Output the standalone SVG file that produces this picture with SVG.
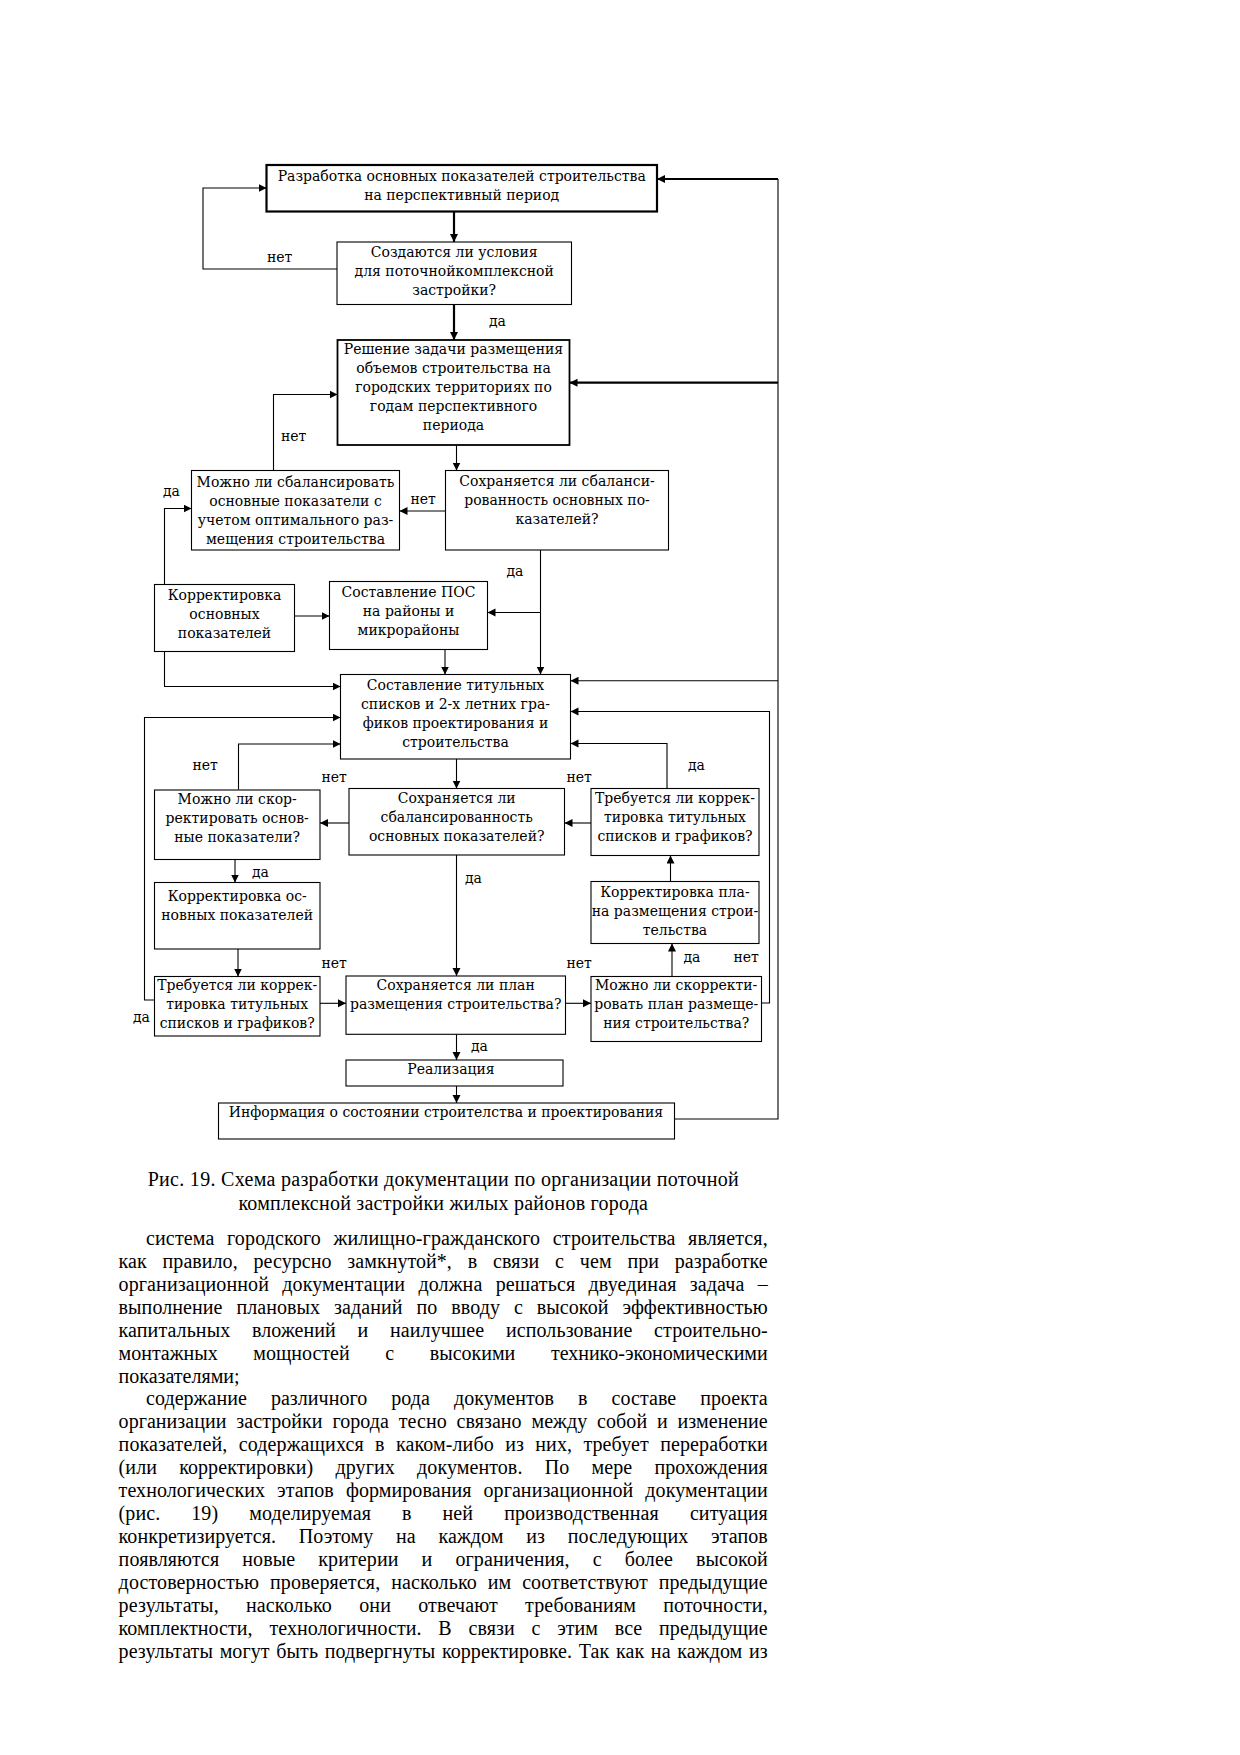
<svg xmlns="http://www.w3.org/2000/svg" width="1240" height="1755" viewBox="0 0 1240 1755">
<defs>
<style>
.box{fill:#fff;stroke:#000;stroke-width:1.1}
.thick{stroke-width:2.2}
.t{font-family:"DejaVu Serif",serif;font-size:14px;fill:#000;text-anchor:middle}
.lbl{font-family:"DejaVu Serif",serif;font-size:14px;fill:#000}
.ln{fill:none;stroke:#000;stroke-width:1.1}
.ln2{fill:none;stroke:#000;stroke-width:2.2}
.arr{marker-end:url(#ah)}
.body{font-family:"Liberation Serif",serif;font-size:20px;fill:#000}
</style>
<marker id="ah" markerUnits="userSpaceOnUse" markerWidth="9" markerHeight="9" refX="8" refY="4" orient="auto">
<path d="M0,0 L8,4 L0,8 Z" fill="#000"/>
</marker>
</defs>
<rect width="1240" height="1755" fill="#fff"/>

<g id="connectors">
<path class="ln2 arr" d="M454,211.5 V242"/>
<path class="ln arr" d="M337,269 H203 V188 H266.5"/>
<path class="ln2 arr" d="M454,304.5 V340"/>
<path class="ln" d="M778,179 V1119 H674.5"/>
<path class="ln2 arr" d="M778,179 H657"/>
<path class="ln2 arr" d="M778,382.7 H569.5"/>
<path class="ln arr" d="M778,680.7 H570.5"/>
<path class="ln arr" d="M456.5,445 V470.5"/>
<path class="ln arr" d="M273.5,470.5 V394.5 H337.5"/>
<path class="ln arr" d="M445.5,511 H399.5"/>
<path class="ln arr" d="M164.5,584.5 V508.5 H191.5"/>
<path class="ln arr" d="M294.5,616 H329.5"/>
<path class="ln arr" d="M540.5,550 V674.5"/>
<path class="ln arr" d="M540.5,612.5 H487.5"/>
<path class="ln arr" d="M445,649.5 V674.5"/>
<path class="ln arr" d="M164.5,651.5 V686.5 H340.5"/>
<path class="ln arr" d="M154.5,1000 H144.5 V717.5 H340.5"/>
<path class="ln arr" d="M238.5,789.5 V744 H340.5"/>
<path class="ln arr" d="M761.5,1003 H769.5 V711.5 H570.5"/>
<path class="ln arr" d="M667,788.5 V743.5 H570.5"/>
<path class="ln arr" d="M456.5,759 V788.5"/>
<path class="ln arr" d="M591,823 H564.5"/>
<path class="ln arr" d="M349,823 H320"/>
<path class="ln arr" d="M235,859.5 V882.5"/>
<path class="ln arr" d="M456.5,855 V976"/>
<path class="ln arr" d="M670.5,881.5 V855.5"/>
<path class="ln arr" d="M238,949 V976.5"/>
<path class="ln arr" d="M672,976.5 V943.5"/>
<path class="ln arr" d="M320,1003.3 H346"/>
<path class="ln arr" d="M565.5,1003.3 H591"/>
<path class="ln arr" d="M456.5,1034.3 V1060"/>
<path class="ln arr" d="M456.5,1086 V1103"/>
<text class="lbl" x="267" y="262">нет</text>
<text class="lbl" x="489" y="326">да</text>
<text class="lbl" x="281" y="441">нет</text>
<text class="lbl" x="410.5" y="503.5">нет</text>
<text class="lbl" x="163" y="496">да</text>
<text class="lbl" x="506.5" y="576">да</text>
<text class="lbl" x="192.5" y="770">нет</text>
<text class="lbl" x="321.5" y="781.5">нет</text>
<text class="lbl" x="566.5" y="781.5">нет</text>
<text class="lbl" x="688" y="770">да</text>
<text class="lbl" x="252" y="877">да</text>
<text class="lbl" x="465" y="883">да</text>
<text class="lbl" x="321.5" y="968">нет</text>
<text class="lbl" x="566.5" y="968">нет</text>
<text class="lbl" x="683.5" y="961.5">да</text>
<text class="lbl" x="733.5" y="961.5">нет</text>
<text class="lbl" x="133" y="1021.5">да</text>
<text class="lbl" x="471" y="1051">да</text>
</g>

<g id="n1">
<rect class="box thick" x="266.5" y="165" width="390.5" height="46.5"/>
<text class="t" x="461.7" y="180.5">Разработка основных показателей строительства</text>
<text class="t" x="461.7" y="199.5">на перспективный период</text>
</g>
<g id="n2">
<rect class="box" x="337" y="242" width="234.5" height="62.5"/>
<text class="t" x="454.2" y="257">Создаются ли условия</text>
<text class="t" x="454.2" y="276">для поточнойкомплексной</text>
<text class="t" x="454.2" y="295">застройки?</text>
</g>
<g id="n3">
<rect class="box" style="stroke-width:1.8" x="337.5" y="340" width="232" height="105"/>
<text class="t" x="453.5" y="354">Решение задачи размещения</text>
<text class="t" x="453.5" y="373">объемов строительства на</text>
<text class="t" x="453.5" y="392">городских территориях по</text>
<text class="t" x="453.5" y="411">годам перспективного</text>
<text class="t" x="453.5" y="430">периода</text>
</g>
<g id="n4">
<rect class="box" x="191.5" y="470.5" width="208" height="79.5"/>
<text class="t" x="295.5" y="486.5">Можно ли сбалансировать</text>
<text class="t" x="295.5" y="505.5">основные показатели с</text>
<text class="t" x="295.5" y="524.5">учетом оптимального раз-</text>
<text class="t" x="295.5" y="543.5">мещения строительства</text>
</g>
<g id="n5">
<rect class="box" x="445.5" y="470.5" width="223" height="79.5"/>
<text class="t" x="557" y="486">Сохраняется ли сбаланси-</text>
<text class="t" x="557" y="505">рованность основных по-</text>
<text class="t" x="557" y="524">казателей?</text>
</g>
<g id="n6">
<rect class="box" x="154.5" y="584.5" width="140" height="67"/>
<text class="t" x="224.5" y="600">Корректировка</text>
<text class="t" x="224.5" y="619">основных</text>
<text class="t" x="224.5" y="638">показателей</text>
</g>
<g id="n7">
<rect class="box" x="329.5" y="581.5" width="158" height="68"/>
<text class="t" x="408.5" y="597">Составление ПОС</text>
<text class="t" x="408.5" y="616">на районы и</text>
<text class="t" x="408.5" y="635">микрорайоны</text>
</g>
<g id="n8">
<rect class="box" x="340.5" y="674.5" width="230" height="84.5"/>
<text class="t" x="455.5" y="689.5">Составление титульных</text>
<text class="t" x="455.5" y="708.5">списков и 2-х летних гра-</text>
<text class="t" x="455.5" y="727.5">фиков проектирования и</text>
<text class="t" x="455.5" y="746.5">строительства</text>
</g>
<g id="n9">
<rect class="box" x="154.5" y="790" width="165.5" height="69.5"/>
<text class="t" x="237.2" y="804">Можно ли скор-</text>
<text class="t" x="237.2" y="823">ректировать основ-</text>
<text class="t" x="237.2" y="842">ные показатели?</text>
</g>
<g id="n10">
<rect class="box" x="349" y="788.5" width="215.5" height="66.5"/>
<text class="t" x="456.7" y="803">Сохраняется ли</text>
<text class="t" x="456.7" y="822">сбалансированность</text>
<text class="t" x="456.7" y="841">основных показателей?</text>
</g>
<g id="n11">
<rect class="box" x="591" y="788.5" width="168" height="67"/>
<text class="t" x="675" y="803">Требуется ли коррек-</text>
<text class="t" x="675" y="822">тировка титульных</text>
<text class="t" x="675" y="841">списков и графиков?</text>
</g>
<g id="n12">
<rect class="box" x="154.5" y="882.5" width="165.5" height="66.5"/>
<text class="t" x="237.2" y="901">Корректировка ос-</text>
<text class="t" x="237.2" y="920">новных показателей</text>
</g>
<g id="n13">
<rect class="box" x="591" y="881.5" width="168" height="62"/>
<text class="t" x="675" y="896.5">Корректировка пла-</text>
<text class="t" x="675" y="915.5">на размещения строи-</text>
<text class="t" x="675" y="934.5">тельства</text>
</g>
<g id="n14">
<rect class="box" x="154.5" y="976.5" width="165.5" height="59.5"/>
<text class="t" x="237.2" y="989.5">Требуется ли коррек-</text>
<text class="t" x="237.2" y="1008.5">тировка титульных</text>
<text class="t" x="237.2" y="1027.5">списков и графиков?</text>
</g>
<g id="n15">
<rect class="box" x="346" y="976" width="219.5" height="58.3"/>
<text class="t" x="455.7" y="989.5">Сохраняется ли план</text>
<text class="t" x="455.7" y="1008.5">размещения строительства?</text>
</g>
<g id="n16">
<rect class="box" x="591" y="976.5" width="170.5" height="65"/>
<text class="t" x="676.2" y="989.5">Можно ли скорректи-</text>
<text class="t" x="676.2" y="1008.5">ровать план размеще-</text>
<text class="t" x="676.2" y="1027.5">ния строительства?</text>
</g>
<g id="n17">
<rect class="box" x="346" y="1060" width="217" height="26"/>
<text class="t" x="451" y="1073.5">Реализация</text>
</g>
<g id="n18">
<rect class="box" x="218.5" y="1103" width="456" height="36"/>
<text class="t" x="446" y="1117">Информация о состоянии строителства и проектирования</text>
</g>

<g id="caption">
<text class="body" x="147.7" y="1186" textLength="591" lengthAdjust="spacing">Рис. 19. Схема разработки документации по организации поточной</text>
<text class="body" x="238.4" y="1209.5" textLength="409.6" lengthAdjust="spacing">комплексной застройки жилых районов города</text>
</g>

<g id="body-text">
<text class="body" x="146" y="1245" style="word-spacing:7.4px" textLength="621.7" lengthAdjust="spacing">система городского жилищно-гражданского строительства является,</text>
<text class="body" x="118.6" y="1267.9" style="word-spacing:10.8px" textLength="649.1" lengthAdjust="spacing">как правило, ресурсно замкнутой*, в связи с чем при разработке</text>
<text class="body" x="118.6" y="1290.8" style="word-spacing:8.2px" textLength="649.1" lengthAdjust="spacing">организационной документации должна решаться двуединая задача –</text>
<text class="body" x="118.6" y="1313.8" style="word-spacing:8.9px" textLength="649.1" lengthAdjust="spacing">выполнение плановых заданий по вводу с высокой эффективностью</text>
<text class="body" x="118.6" y="1336.7" style="word-spacing:16.6px" textLength="649.1" lengthAdjust="spacing">капитальных вложений и наилучшее использование строительно-</text>
<text class="body" x="118.6" y="1359.6" style="word-spacing:30.7px" textLength="649.1" lengthAdjust="spacing">монтажных мощностей с высокими технико-экономическими</text>
<text class="body" x="118.6" y="1382.5">показателями;</text>
<text class="body" x="146" y="1405.4" style="word-spacing:19px" textLength="621.7" lengthAdjust="spacing">содержание различного рода документов в составе проекта</text>
<text class="body" x="118.6" y="1428.4" style="word-spacing:4.8px" textLength="649.1" lengthAdjust="spacing">организации застройки города тесно связано между собой и изменение</text>
<text class="body" x="118.6" y="1451.3" style="word-spacing:6.2px" textLength="649.1" lengthAdjust="spacing">показателей, содержащихся в каком-либо из них, требует переработки</text>
<text class="body" x="118.6" y="1474.2" style="word-spacing:17.1px" textLength="649.1" lengthAdjust="spacing">(или корректировки) других документов. По мере прохождения</text>
<text class="body" x="118.6" y="1497.1" style="word-spacing:7px" textLength="649.1" lengthAdjust="spacing">технологических этапов формирования организационной документации</text>
<text class="body" x="118.6" y="1520" style="word-spacing:26px" textLength="649.1" lengthAdjust="spacing">(рис. 19) моделируемая в ней производственная ситуация</text>
<text class="body" x="118.6" y="1543" style="word-spacing:17.7px" textLength="649.1" lengthAdjust="spacing">конкретизируется. Поэтому на каждом из последующих этапов</text>
<text class="body" x="118.6" y="1565.9" style="word-spacing:17.9px" textLength="649.1" lengthAdjust="spacing">появляются новые критерии и ограничения, с более высокой</text>
<text class="body" x="118.6" y="1588.8" style="word-spacing:5.8px" textLength="649.1" lengthAdjust="spacing">достоверностью проверяется, насколько им соответствуют предыдущие</text>
<text class="body" x="118.6" y="1611.7" style="word-spacing:22px" textLength="649.1" lengthAdjust="spacing">результаты, насколько они отвечают требованиям поточности,</text>
<text class="body" x="118.6" y="1634.6" style="word-spacing:11.7px" textLength="649.1" lengthAdjust="spacing">комплектности, технологичности. В связи с этим все предыдущие</text>
<text class="body" x="118.6" y="1657.6" style="word-spacing:1.6px" textLength="649.1" lengthAdjust="spacing">результаты могут быть подвергнуты корректировке. Так как на каждом из</text>
</g>
</svg>
